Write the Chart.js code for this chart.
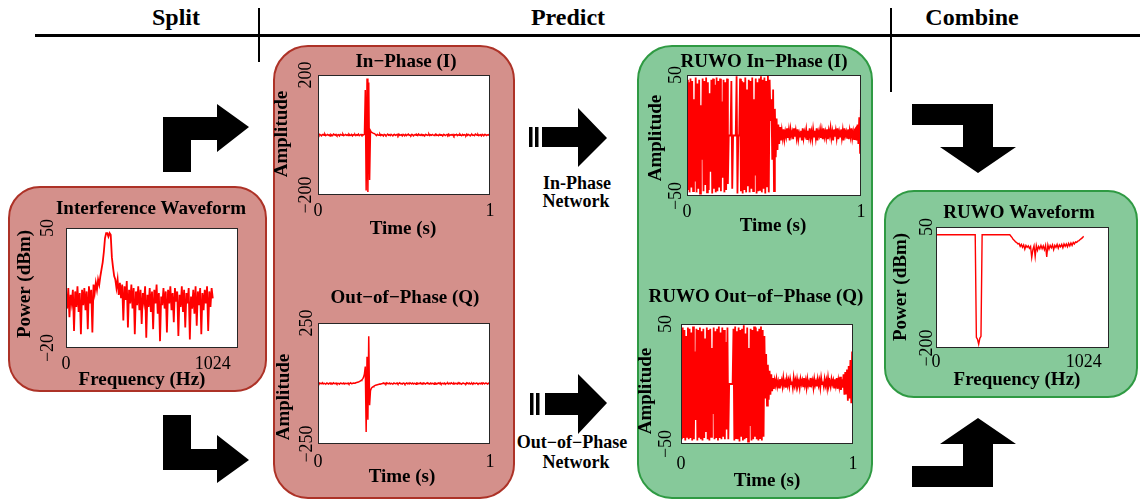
<!DOCTYPE html>
<html>
<head>
<meta charset="utf-8">
<script src="https://cdn.jsdelivr.net/npm/chart.js@4"></script>
<style>
  body { margin: 0; width: 1140px; height: 503px; position: relative; overflow: hidden; background: #fff; font-family: 'Liberation Serif', serif }
  .box { position: absolute; box-sizing: border-box; border: 2px solid }
  .red { background: #d4908b; border-color: #ad3227 }
  .green { background: #86c99a; border-color: #2f9a43 }
  canvas, svg { position: absolute; left: 0; top: 0 }
</style>
</head>
<body>
<div class="box red" style="left:8px;top:186px;width:259px;height:206px;border-radius:32px"></div>
<div class="box red" style="left:273px;top:45px;width:242px;height:454px;border-radius:35px"></div>
<div class="box green" style="left:637px;top:45px;width:236px;height:454px;border-radius:35px"></div>
<div class="box green" style="left:884px;top:190px;width:254px;height:208px;border-radius:30px"></div>

<svg width="1140" height="503">
  <line x1="35" y1="35.5" x2="1140" y2="35.5" stroke="#000" stroke-width="3"/>
  <line x1="259" y1="8" x2="259" y2="62" stroke="#000" stroke-width="2"/>
  <line x1="891" y1="8" x2="891" y2="92" stroke="#000" stroke-width="2"/>
  <g font-family="Liberation Serif" font-weight="bold" font-size="24" text-anchor="middle" fill="#000">
    <text x="176" y="25">Split</text>
    <text x="568" y="25">Predict</text>
    <text x="972" y="25">Combine</text>
  </g>
  <g fill="#000">
    <polygon points="163,172 163,117 217,117 217,104 249,127 217,152 217,140 191,140 191,172"/>
    <polygon points="163,415 191,415 191,449 217,449 217,435 249,460 217,483 217,470 163,470"/>
    <rect x="529" y="127" width="3.5" height="20"/>
    <rect x="535" y="127" width="3.5" height="20"/>
    <polygon points="542,127 578,127 578,108 607,138 578,167 578,147 542,147"/>
    <rect x="530" y="393" width="3.5" height="22"/>
    <rect x="536" y="393" width="3.5" height="22"/>
    <polygon points="545,393 578,393 578,374 607,403 578,434 578,415 545,415"/>
    <polygon points="912,104 993,104 993,147 1016,147 978,173 940,147 963,147 963,125 912,125"/>
    <polygon points="912,487 993,487 993,444 1016,444 978,418 940,444 963,444 963,466 912,466"/>
  </g>
  <g font-family="Liberation Serif" font-weight="bold" font-size="18" text-anchor="middle" fill="#000">
    <text x="577" y="189">In-Phase</text>
    <text x="576" y="207">Network</text>
    <text x="572" y="448">Out−of−Phase</text>
    <text x="576" y="468">Network</text>
  </g>
</svg>

<script>
// tick values (labels are formatted from these)
const freqTicks = [0, 1024]
const timeTicks = [0, 1]
const interferenceTicks = [-20, 50]
const inPhaseTicks = [-200, 200]
const quadTicks = [-250, 250]
const ruwoTicks = [-50, 50]
const ruwoPowerTicks = [-200, 50]

// spectra, one value every 8 Hz from 0 to 1024
const interferencePower = [
  12, 3, 15, -2, 11, 6, 14, -10, 13, 4, 16, 1, 12, -12, 14, 5, 15, 2, 13, -9, 16, 6, 14, -11, 17, 12,
  18, 14, 20, 17, 22, 26, 30, 36, 44, 47, 47, 45, 47, 46, 33, 27, 22, 20,
  15, 20, 11, 18, 9, 17, -4, 16, 8, 19, -8, 14, 6, 17, 3, 15,
  -12, 13, 5, 16, 2, 14, -6, 12, 7, 16, -14, 11, 4, 15, 1, 13, -9, 14, 6, 17,
  0, 12, -16, 10, 5, 15, 3, 13, -11, 14, 6, 16, 2, 12, -5, 15, 7, 13, -13, 11,
  4, 16, 1, 14, -8, 12, 6, 15, -15, 10, 3, 14, 0, 16, -7, 13, 5, 15, -12, 12,
  2, 14, 6, 16, -10, 13, 4, 15, 9
]

const ruwoPower = [
  34, 34, 34, 34, 34, 34, 34, 34, 34, 34, 34, 34, 34, 34, 34, 34, 34, 34, 34, 34,
  34, 34, 34, 34, 34, 34, 34, 34, 34, 34, 34, 34, 34, 34, 34,
  -178, -182, -192, -180, -176,
  34, 34, 34, 34, 34, 34, 34, 34, 34, 34, 34, 34, 34, 34, 34, 34, 34, 34, 34, 34,
  34, 34, 34, 34, 34,
  31, 28, 24, 22, 19, 18, 15, 16, 10, 14, 8, 13, 4, 12, 8, 11, 6, 10, -13, 3,
  11, -11, 12, 2, 10, 5, 12, 5, 11, 3, 12, -12, 13, 4, 12, 7, 13, 3, 12, 8,
  14, 6, 13, 9, 14, 7, 15, 10, 15, 9, 16, 11, 17, 12, 18, 15, 19, 18, 21, 22,
  24, 26, 28, 31
]

// time series, one value every 5 ms from 0 to 1 s
const inPhaseAmp = [
  1, -2, 2, 0, -3, 1, 2, -1, 3, -2, 0, 2, -1, 1, -3, 2, 0, -2, 3, 1,
  -1, 2, -2, 0, 1, -3, 2, 1, -1, 3, -2, 0, 2, -1, 1, -2, 3, 0, -1, 2,
  -3, 1, 0, 2, -2, 1, -1, 3, -2, 0, 2, -1, 1, 0, 2,
  150, -185, 188, -190, 175, -150,
  15, 10, 8, 6, 5, 4,
  1, -2, 2, 0, -1, 3, -2, 1, 0, -3, 2, 1, -2, 0, 3, -1, 1, -2, 2, 0,
  -3, 1, 2, -1, 0, 2, -2, 3, -1, 0, 1, -3, 2, 0, -1, 2, -2, 1, 3, -1,
  0, -2, 2, 1, -3, 0, 2, -1, 1, -2, 3, 0, -1, 2, -2, 1, 0, -3, 2, 1,
  -1, 0, 3, -2, 1, -1, 2, 0, -2, 1, 3, -1, 0, -2, 2, -1, 1, 0, -3, 2,
  1, -2, 0, 2, -1, 3, -2, 0, 1, -1, 2, -3, 1, 0, 2, -2, 1, -1, 3, 0,
  -2, 2, -1, 1, 0, -2, 3, -1, 2, 0, -3, 1, 2, -1, 0, -2, 3, 1, -1, 2,
  -2, 0, 1, -3, 2, 0, -1, 2, 1, -2, 0, 1, -1, 2
]

const quadAmp = [
  1, -2, 2, 0, -1, 3, -2, 1, 0, -3, 2, 1, -2, 0, 2, -1, 1, -2, 3, 0,
  -1, 2, -2, 1, 0, -3, 2, 1, -1, 0, 2, -2, 1, 0, -1, 2, -2, 1, 3, -1,
  0, 2, 1,
  2, 3, 4, 5, 6, 8, 10, 12, 15, 19, 26, 40,
  70, -200, 110, -150, 195, -90,
  -30, -20, -16, -13, -11, -9, -7, -6, -5, -4, -3, -2, -2, -1, 0,
  2, -1, 1, -2, 3, 0, -1, 2, -2, 1, 0, -3, 2, 1, -1, 0, 2, -2, 1, 3,
  -1, 0, -2, 2, 1, -3, 0, 2, -1, 1, -2, 3, 0, -1, 2, -2, 1, 0, -3, 2,
  1, -1, 0, 3, -2, 1, -1, 2, 0, -2, 1, 3, -1, 0, -2, 2, -1, 1, 0, -3,
  2, 1, -2, 0, 2, -1, 3, -2, 0, 1, -1, 2, -3, 1, 0, 2, -2, 1, -1, 3,
  0, -2, 2, -1, 1, 0, -2, 3, -1, 2, 0, -3, 1, 2, -1, 0, -2, 3, 1, -1,
  2, -2, 0, 1, -3, 2, 0, -1, 2, 1, -2, 0, 1, -1, 2, -2, 3, 0, -1, 2,
  1, -2, 0, 2, -1
]

const ruwoInAmp = [
  46, -45, 44, -47, 47, -43, 45, -46, 30, -38, 48, -47, 43, -44, 46, -48, 25, -20, 47, -46,
  45, -41, 48, -47, 44, -45, 35, -30, 46, -48, 47, -44, 42, -47, 48, -46, 45, -43, 47, -46,
  28, -35, 46, -47, 44, -45, 47, -40,
  0, 0, 0, 45, -44, 0, 0, 0, 0, 49, -48, 0, 0,
  47, -46, 45, -48, 44, -45, 48, -47, 38, -42, 46, -47, 45, -44, 48, -46, 30, -33, 47, -48,
  44, -46, 47, -45, 49, -47, 46, -44, 48, -48, 45, -42, 50, -47, 46,
  12, 30, -20, 38, -46, 22, -18, 14, -12, 9, -7, 7, -4,
  4, -2, 5, -3, 3, -1, 6, -2, 4, -4, 5, 0, 3, -3, 6, -1, 4, -2, 5, -3,
  2, -1, 4, -4, 6, -2, 3, 0, 5, -3, 4, -1, 6, -2, 3, -3, 5, -1, 4, -2,
  6, -4, 3, 0, 5, -2, 4, -3, 6, -1, 3, -2, 5, -3, 4, 0, 6, -2, 3, -4,
  5, -1, 4, -2, 6, -3, 3, -1, 5, -2, 4, -4, 6, 0, 3, -2, 5, -3, 4, -1,
  6, -2, 3, -3, 5,
  6, -4, 9, -7, 15, -15, 29
]

const ruwoQuadAmp = [
  44, -46, 47, -45, 45, -47, 40, -44, 47, -46, 46, -45, 43, -47, 48, -46, 27, -30, 46, -47,
  45, -44, 47, -46, 44, -47, 46, -45, 38, -40, 47, -46, 45, -47, 46, -44, 30, -25, 47, -46,
  44, -45, 46, -47, 48, -45, 43, -46, 47, -44, 45, -46, 35, -38, 47, -46,
  0, 0, 0, 0, 0,
  46, -47, 48, -45, 44, -46, 47, -48, 45, -44, 46, -47, 49, -46, 42, -45, 47, -48, 30, -35,
  46, -47, 45, -46, 48, -44, 47, -46, 44, -47, 46, -45, 48, -47, 45, -44,
  40, -12, 25, -18, 16, -13, 11, -9, 8, -6, 5, -4,
  3, -1, 4, -2, 2, -3, 4, 0, 3, -2, 5, -1, 2, -3, 4, -1, 3, -2, 4, 0,
  2, -3, 5, -1, 3, -2, 4, -1, 2, -3, 4, 0, 3, -2, 5, -1, 3, -3, 4, -1,
  2, -2, 5, 0, 3, -3, 4, -1, 2, -2, 4, -1, 3, -3, 5, 0, 2, -2, 4, -1,
  3, -3, 5, -1, 2, -2, 4, 0, 3, -3, 4, -1, 5, -4, 3, -2, 6, -5, 4, -3,
  8, -9, 10, -8, 12, -14, 15, -12, 20, -16, 27, -19
]

const FONT = '"Liberation Serif", "DejaVu Serif", serif'

const panels = [
  {
    key: 'interference', values: interferencePower, xSpan: 1024, xMax: 1200, lineWidth: 1.8,
    xTicks: freqTicks, yTicks: interferenceTicks, plot: [66, 228, 238, 348],
    title: 'Interference Waveform', titleAt: [151, 209],
    xLabel: 'Frequency (Hz)', xLabelAt: [142, 380],
    yLabel: 'Power (dBm)', yLabelAt: [25, 284], xTickY: 364, yTickX: 48
  },
  {
    key: 'inPhase', values: inPhaseAmp, xSpan: 1, xMax: 1, lineWidth: 1.5,
    xTicks: timeTicks, yTicks: inPhaseTicks, plot: [318, 75, 490, 195],
    title: 'In\u2212Phase (I)', titleAt: [406, 62],
    xLabel: 'Time (s)', xLabelAt: [403, 229],
    yLabel: 'Amplitude', yLabelAt: [282, 134], xTickY: 211, yTickX: 306
  },
  {
    key: 'quad', values: quadAmp, xSpan: 1, xMax: 1, lineWidth: 1.5,
    xTicks: timeTicks, yTicks: quadTicks, plot: [318, 323, 490, 444],
    title: 'Out\u2212of\u2212Phase (Q)', titleAt: [405, 298],
    xLabel: 'Time (s)', xLabelAt: [402, 477],
    yLabel: 'Amplitude', yLabelAt: [284, 397], xTickY: 462, yTickX: 307
  },
  {
    key: 'ruwoIn', values: ruwoInAmp, xSpan: 1, xMax: 1, lineWidth: 1.8,
    xTicks: timeTicks, yTicks: ruwoTicks, plot: [687, 75, 861, 196],
    title: 'RUWO In\u2212Phase (I)', titleAt: [764, 62],
    xLabel: 'Time (s)', xLabelAt: [773, 226],
    yLabel: 'Amplitude', yLabelAt: [656, 138], xTickY: 212, yTickX: 676
  },
  {
    key: 'ruwoQuad', values: ruwoQuadAmp, xSpan: 1, xMax: 1, lineWidth: 1.8,
    xTicks: timeTicks, yTicks: ruwoTicks, plot: [681, 324, 853, 444],
    title: 'RUWO Out\u2212of\u2212Phase (Q)', titleAt: [756, 297],
    xLabel: 'Time (s)', xLabelAt: [767, 481],
    yLabel: 'Amplitude', yLabelAt: [646, 391], xTickY: 464, yTickX: 666
  },
  {
    key: 'ruwo', values: ruwoPower, xSpan: 1024, xMax: 1200, lineWidth: 1.4,
    xTicks: freqTicks, yTicks: ruwoPowerTicks, plot: [936, 227, 1109, 348],
    title: 'RUWO Waveform', titleAt: [1019, 213],
    xLabel: 'Frequency (Hz)', xLabelAt: [1017, 380],
    yLabel: 'Power (dBm)', yLabelAt: [901, 287], xTickY: 362, yTickX: 927
  }
]

const fmt = v => (v < 0 ? '\u2212' + Math.abs(v) : String(v))

// samples are evenly spaced over the span
const toPoints = (values, span) =>
  values.map((v, i) => ({ x: (i * span) / (values.length - 1), y: v }))

function panelPlugin(p) {
  return {
    id: 'panel_' + p.key,
    beforeDraw(chart) {
      const { ctx, chartArea: a } = chart
      ctx.save()
      ctx.fillStyle = '#fff'
      ctx.fillRect(a.left, a.top, a.width, a.height)
      ctx.restore()
    },
    afterDatasetsDraw(chart) {
      const { ctx, chartArea: a } = chart
      ctx.save()
      ctx.strokeStyle = '#262626'
      ctx.lineWidth = 1
      ctx.strokeRect(Math.round(a.left) + 0.5, Math.round(a.top) + 0.5,
        Math.round(a.width) - 1, Math.round(a.height) - 1)
      ctx.restore()
    },
    afterDraw(chart) {
      const { ctx, scales: { x, y } } = chart
      ctx.save()
      ctx.fillStyle = '#000'
      ctx.textAlign = 'center'
      ctx.textBaseline = 'middle'

      ctx.font = 'bold 19px ' + FONT
      ctx.fillText(p.title, p.titleAt[0], p.titleAt[1])
      ctx.fillText(p.xLabel, p.xLabelAt[0], p.xLabelAt[1])
      ctx.save()
      ctx.translate(p.yLabelAt[0], p.yLabelAt[1])
      ctx.rotate(-Math.PI / 2)
      ctx.fillText(p.yLabel, 0, 0)
      ctx.restore()

      ctx.font = '18px ' + FONT
      p.xTicks.forEach(v => ctx.fillText(fmt(v), x.getPixelForValue(v), p.xTickY))
      p.yTicks.forEach(v => {
        ctx.save()
        ctx.translate(p.yTickX, y.getPixelForValue(v))
        ctx.rotate(-Math.PI / 2)
        ctx.fillText(fmt(v), 0, 0)
        ctx.restore()
      })
      ctx.restore()
    }
  }
}

panels.forEach(p => {
  const canvas = document.createElement('canvas')
  canvas.width = 1140
  canvas.height = 503
  document.body.appendChild(canvas)
  const [left, top, right, bottom] = p.plot

  new Chart(canvas, {
    type: 'line',
    data: {
      datasets: [
        {
          data: toPoints(p.values, p.xSpan),
          borderColor: '#ff0000',
          borderWidth: p.lineWidth,
          pointRadius: 0,
          tension: 0
        }
      ]
    },
    options: {
      responsive: false,
      animation: false,
      events: [],
      layout: { padding: { left, top, right: 1140 - right, bottom: 503 - bottom } },
      scales: {
        x: { type: 'linear', display: false, min: 0, max: p.xMax },
        y: { type: 'linear', display: false, min: p.yTicks[0], max: p.yTicks[p.yTicks.length - 1] }
      },
      plugins: { legend: { display: false }, tooltip: { enabled: false } }
    },
    plugins: [panelPlugin(p)]
  })
})
</script>
</body>
</html>
